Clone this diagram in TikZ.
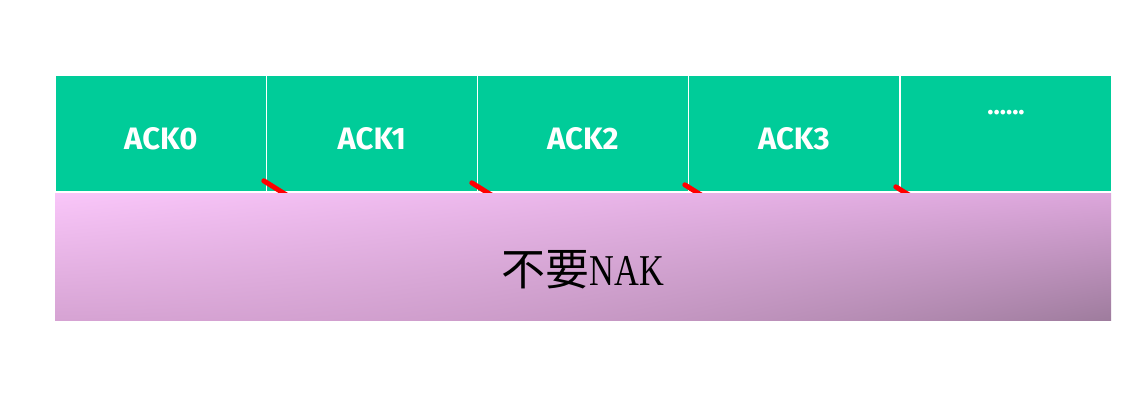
\documentclass[tikz,border=0pt]{standalone}
\usepackage{fontspec}
\setmainfont{Liberation Serif}
\newfontfamily\ackfont{Fira Sans}
\newfontfamily\cjk{Noto Sans CJK SC}
\newfontfamily\nakfont[FakeStretch=0.78]{Liberation Serif}
\definecolor{ackgreen}{HTML}{00CC99}
\pgfdeclarefunctionalshading{nakshade}{\pgfpoint{0bp}{0bp}}{\pgfpoint{100bp}{100bp}}{}{
  25 sub 50 div
  exch 25 sub 50 div
  1 index 1 exch sub 1 index mul 2 index add mul
  1 index 0.106 mul -0.219 add 1 index mul 2 index 0.137 mul add 0.839 add
  3 1 roll
  1 index 0.028 mul -0.153 add 1 index mul 2 index 0.137 mul add 0.639 add
  3 1 roll
  1 index 0.094 mul -0.211 add 1 index mul 2 index 0.149 mul add 0.827 add
  3 1 roll pop pop
}
\tikzset{
  ackbox/.style={rectangle, fill=ackgreen, draw=white, line width=0.8pt,
    minimum width=211pt, minimum height=116pt, inner sep=0pt, anchor=north west},
  acktext/.style={text=white, font=\ackfont\bfseries\fontsize{31}{34}\selectfont, inner sep=0pt},
  redmark/.style={draw=red, line width=5pt, line cap=round},
  nakbox/.style={rectangle, draw=none, inner sep=0pt, anchor=north west,
    minimum width=1056pt, minimum height=127pt, shading=nakshade, shading angle=0},
}
\begin{document}
\begin{tikzpicture}[x=1pt,y=-1pt]
\useasboundingbox[fill=white] (0,0) rectangle (1148,408);
\node[ackbox] (a0) at (55,75) {};
\node[ackbox] (a1) at (266,75) {};
\node[ackbox] (a2) at (477,75) {};
\node[ackbox] (a3) at (688,75) {};
\node[ackbox] (a4) at (900,75) {};
\node[acktext] (t0) at ([yshift=-5pt]a0.center) {ACK0};
\node[acktext] (t1) at ([yshift=-5pt]a1.center) {ACK1};
\node[acktext] (t2) at ([yshift=-5pt]a2.center) {ACK2};
\node[acktext] (t3) at ([yshift=-5pt]a3.center) {ACK3};
\node[text=white, font=\ackfont\bfseries\fontsize{26}{28}\selectfont, inner sep=0pt, anchor=base] (dots) at (1006,114) {......};
\coordinate (r1) at ([xshift=-3pt,yshift=11pt]a0.south east);
\coordinate (r2) at ([xshift=-6pt,yshift=9pt]a1.south east);
\coordinate (r3) at ([xshift=-4pt,yshift=7pt]a2.south east);
\coordinate (r4) at ([xshift=-4pt,yshift=5pt]a3.south east);
\foreach \r in {r1,r2,r3,r4} \draw[redmark] (\r) -- ++(24,15);
\node[nakbox, shade] (nak) at (55,193) {};
\node[inner sep=0pt] (naktext) at (583,270) {\fontsize{44}{48}\selectfont\cjk 不要\nakfont NAK};
\end{tikzpicture}
\end{document}
